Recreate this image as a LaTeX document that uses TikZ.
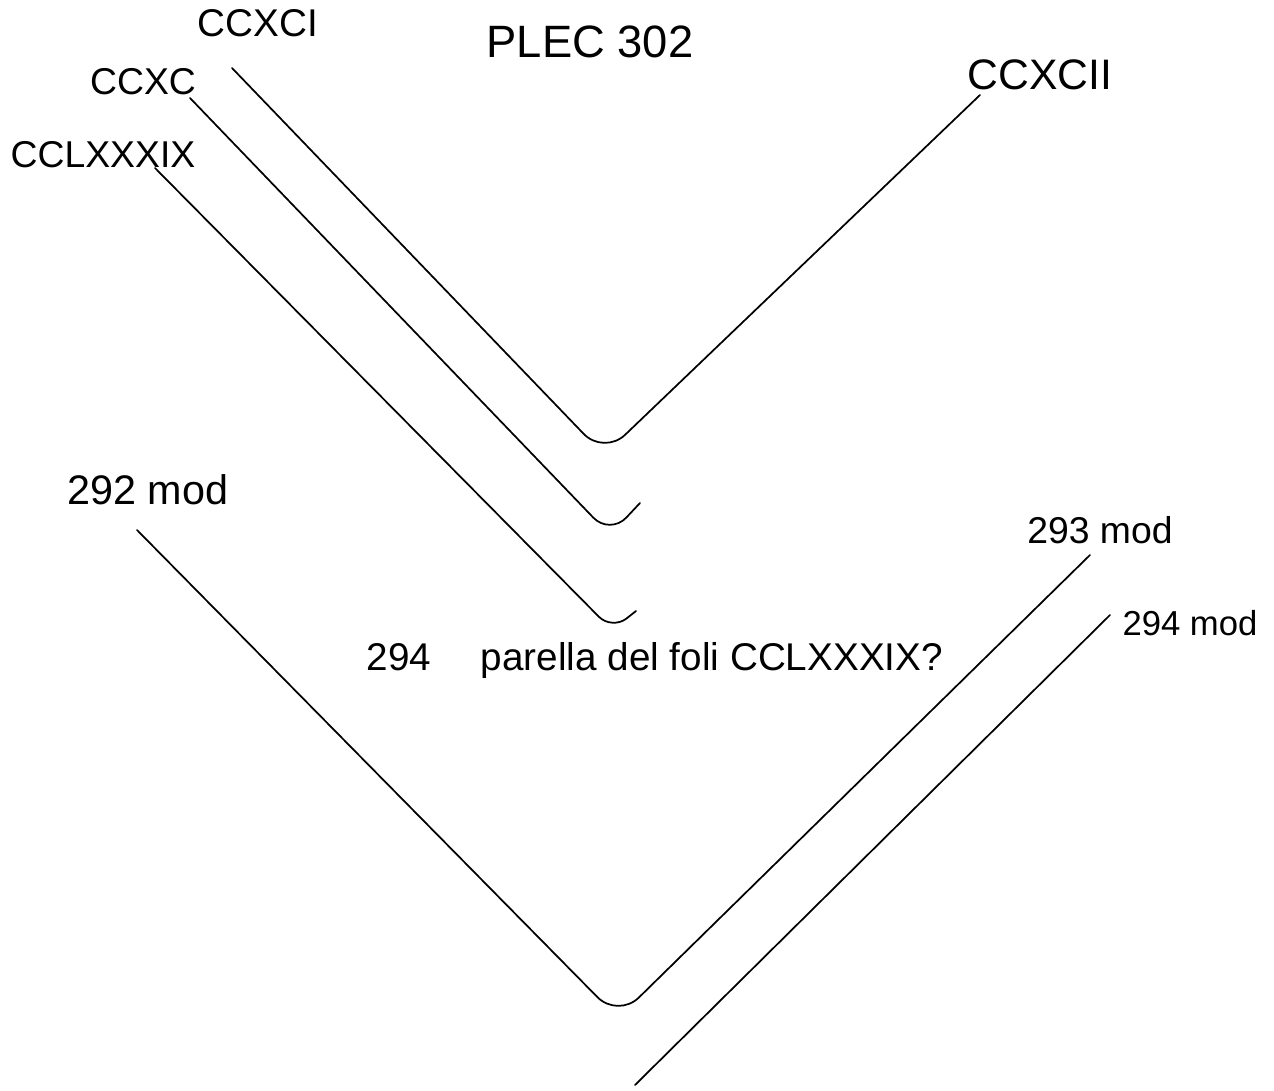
\documentclass[tikz,border=0pt]{standalone}
\usepackage{fontspec}
\setmainfont{Liberation Sans}
\begin{document}
\begin{tikzpicture}[x=0.75pt,y=-0.75pt,
  lbl/.style={inner sep=0pt,font=\fontsize{#1}{#1}\selectfont},
  lbl/.default=26,
  fold/.style={line width=1.3pt,line cap=round,line join=round,rounded corners=22pt}]
\useasboundingbox (0,0) rectangle (1274,1091);
% labels
\node[lbl=29] (t1) at (258,23) {CCXCI};
\node[lbl=28] (t2) at (143,82) {CCXC};
\node[lbl=28] (t3) at (103,155) {CCLXXXIX};
\node[lbl=34] (title) at (590,42) {PLEC 302};
\node[lbl=32] (t4) at (1040,75) {CCXCII};
\node[lbl=31] (m292) at (148,490) {292 mod};
\node[lbl=28] (m293) at (1100,530) {293 mod};
\node[lbl=26] (m294) at (1190,623) {294 mod};
\node[lbl=29] (note) at (655,660) {294\quad\ parella del foli CCLXXXIX?};
% coordinates
\coordinate (a1) at (232,68);
\coordinate (v1) at (604,455);
\coordinate (b1) at (980,95);
\coordinate (a2) at (190,98);
\coordinate (v2) at (610,535);
\coordinate (b2) at (640,503);
\coordinate (a3) at (155,168);
\coordinate (v3) at (612,630);
\coordinate (b3) at (636,611);
\coordinate (a4) at (137,530);
\coordinate (v4) at (618,1018);
\coordinate (b4) at (1090,555);
\coordinate (a5) at (635,1085);
\coordinate (b5) at (1110,615);
% folds
\draw[fold] (a1) -- (v1) -- (b1);
\draw[fold,rounded corners=18pt] (a2) -- (v2) -- (b2);
\draw[fold,rounded corners=14pt] (a3) -- (v3) -- (b3);
\draw[fold] (a4) -- (v4) -- (b4);
\draw[fold] (a5) -- (b5);
\end{tikzpicture}
\end{document}
